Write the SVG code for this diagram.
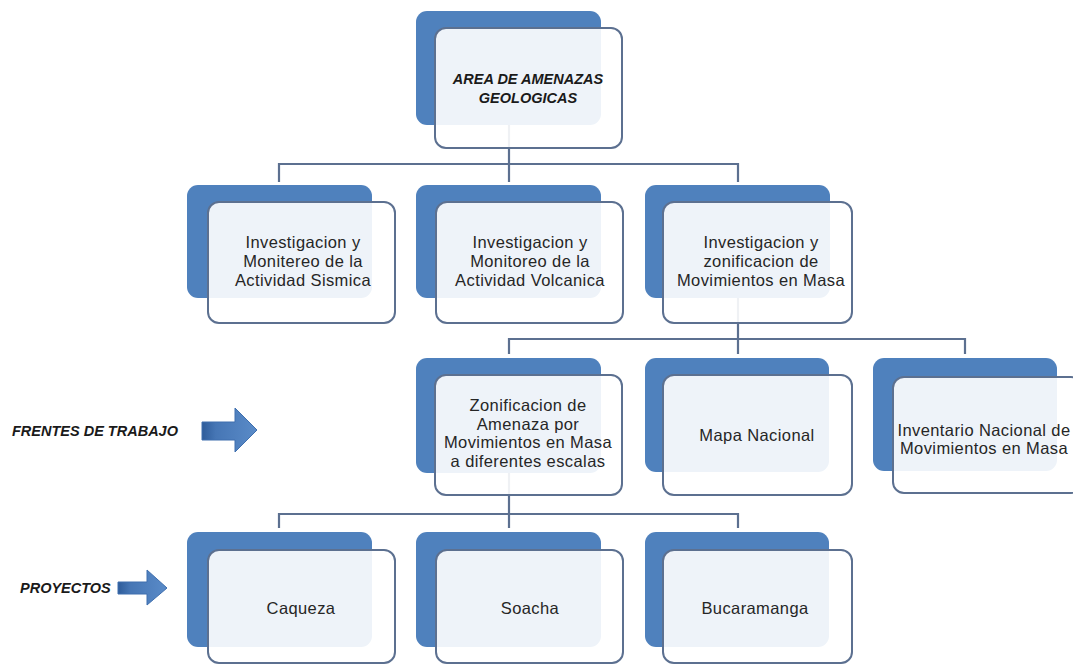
<svg xmlns="http://www.w3.org/2000/svg" width="1073" height="665" viewBox="0 0 1073 665">
<defs>
<linearGradient id="arrowGrad" x1="0" y1="0" x2="1" y2="0">
<stop offset="0" stop-color="#2E5C9A"/>
<stop offset="0.25" stop-color="#4676B5"/>
<stop offset="1" stop-color="#5A8BC8"/>
</linearGradient>
<style>
.back{fill:#4F81BD;}
.front{fill:#FFFFFF;fill-opacity:0.9;stroke:#5C7090;stroke-width:2;}
.conn{fill:none;stroke:#5C7090;stroke-width:2.2;}
.t{font-family:"Liberation Sans",Arial,sans-serif;font-size:16.5px;letter-spacing:0.4px;fill:#262626;text-anchor:middle;}
.h{font-family:"Liberation Sans",Arial,sans-serif;font-size:14.5px;font-weight:bold;font-style:italic;fill:#1A1A1A;}
.arrow{fill:url(#arrowGrad);stroke:#3F6FAE;stroke-width:1;}
</style>
</defs>
<rect width="1073" height="665" fill="#FFFFFF"/>

<g id="connectors">
<path class="conn" d="M509,125 V164 M279,182 V164 H738 V182 M509,164 V182"/>
<path class="conn" d="M738,298 V339 M509,354 V339 H965 V354 M738,339 V354"/>
<path class="conn" d="M509,473 V514 M279,528 V514 H738 V528 M509,514 V528"/>
</g>

<g id="node-area">
<rect class="back" x="416" y="11" width="185" height="114" rx="11"/>
<rect class="front" x="435" y="28" width="187" height="120" rx="11"/>
<text class="h" x="528" y="84" text-anchor="middle">AREA DE AMENAZAS</text>
<text class="h" x="528" y="103" text-anchor="middle">GEOLOGICAS</text>
</g>

<g id="node-sismica">
<rect class="back" x="187" y="185" width="185" height="113" rx="11"/>
<rect class="front" x="208" y="202" width="187" height="121" rx="11"/>
<text class="t" x="303" y="248">Investigacion y</text>
<text class="t" x="303" y="267">Monitereo de la</text>
<text class="t" x="303" y="286">Actividad Sismica</text>
</g>

<g id="node-volcanica">
<rect class="back" x="416" y="185" width="185" height="113" rx="11"/>
<rect class="front" x="436" y="202" width="187" height="121" rx="11"/>
<text class="t" x="530" y="248">Investigacion y</text>
<text class="t" x="530" y="267">Monitoreo de la</text>
<text class="t" x="530" y="286">Actividad Volcanica</text>
</g>

<g id="node-movimientos">
<rect class="back" x="645" y="185" width="185" height="113" rx="11"/>
<rect class="front" x="663" y="202" width="189" height="121" rx="11"/>
<text class="t" x="761" y="248">Investigacion y</text>
<text class="t" x="761" y="267">zonificacion de</text>
<text class="t" x="761" y="286">Movimientos en Masa</text>
</g>

<g id="node-zonificacion">
<rect class="back" x="416" y="358" width="185" height="115" rx="11"/>
<rect class="front" x="435" y="375" width="187" height="120" rx="11"/>
<text class="t" x="528" y="411">Zonificacion de</text>
<text class="t" x="528" y="429.5">Amenaza por</text>
<text class="t" x="528" y="448">Movimientos en Masa</text>
<text class="t" x="528" y="466.5">a diferentes escalas</text>
</g>

<g id="node-mapa">
<rect class="back" x="645" y="358" width="184" height="114" rx="11"/>
<rect class="front" x="663" y="375" width="189" height="120" rx="11"/>
<text class="t" x="757" y="441">Mapa Nacional</text>
</g>

<g id="node-inventario">
<rect class="back" x="873" y="358" width="184" height="113" rx="11"/>
<rect class="front" x="893" y="377" width="189" height="116" rx="11"/>
<text class="t" x="984" y="436">Inventario Nacional de</text>
<text class="t" x="984" y="454">Movimientos en Masa</text>
</g>

<g id="node-caqueza">
<rect class="back" x="187" y="532" width="185" height="115" rx="11"/>
<rect class="front" x="208" y="550" width="187" height="113" rx="11"/>
<text class="t" x="301" y="614">Caqueza</text>
</g>

<g id="node-soacha">
<rect class="back" x="416" y="532" width="185" height="115" rx="11"/>
<rect class="front" x="436" y="550" width="187" height="113" rx="11"/>
<text class="t" x="530" y="614">Soacha</text>
</g>

<g id="node-bucaramanga">
<rect class="back" x="645" y="532" width="184" height="115" rx="11"/>
<rect class="front" x="663" y="550" width="189" height="113" rx="11"/>
<text class="t" x="755" y="614">Bucaramanga</text>
</g>

<g id="label-frentes">
<text class="h" x="12" y="436">FRENTES DE TRABAJO</text>
<polygon class="arrow" points="202,422 235,422 235,408 257,430 235,452 235,440 202,440"/>
</g>

<g id="label-proyectos">
<text class="h" x="20" y="593">PROYECTOS</text>
<polygon class="arrow" points="118,582 147,582 147,570 167,588 147,605 147,594 118,594"/>
</g>
</svg>
